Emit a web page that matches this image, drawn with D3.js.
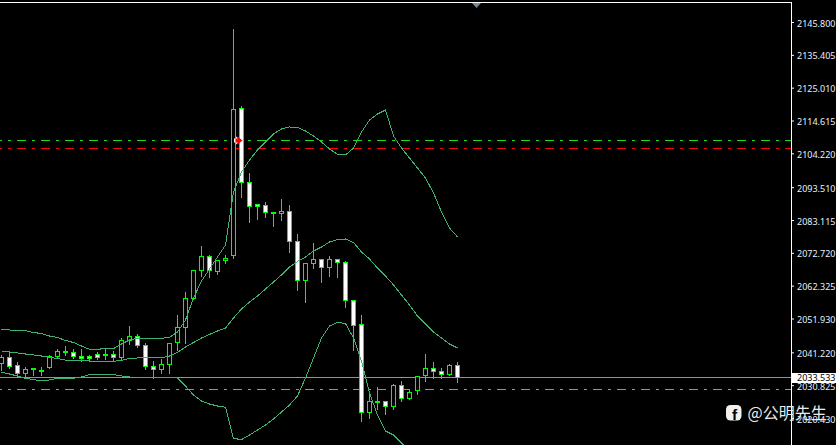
<!DOCTYPE html>
<html><head><meta charset="utf-8">
<style>html,body{margin:0;padding:0;background:#000;overflow:hidden}svg{display:block}</style>
<script src="https://cdnjs.cloudflare.com/ajax/libs/d3/7.8.5/d3.min.js"></script>
</head><body><svg id="c" width="836" height="445"></svg>
<script>
const open_=[2037.62,2039.65,2037.12,2034.46,2036.17,2035.53,2036.36,2039.84,2041.55,2041.23,2039.97,2039.97,2040.69,2040.69,2040.38,2039.52,2044.81,2046.3,2043.45,2036.8,2035.72,2037.43,2044.27,2049.15,2058.33,2067.19,2071.62,2066.88,2070.23,2071.81,2118.48,2095.05,2087.87,2087.77,2085.56,2085.11,2085.87,2076.37,2063.9,2069.28,2070.68,2068.02,2070.68,2069.73,2057.69,2050.1,2022.11,2025.5,2025.72,2024.01,2030.78,2026.54,2029.2,2033.73,2036.17,2035.21,2034.14,2037.12];
const close_=[2039.65,2036.67,2034.58,2035.85,2035.72,2035.31,2039.97,2041.55,2041.01,2039.84,2039.21,2039.21,2039.74,2040.16,2039.52,2045.03,2046.3,2043.23,2036.67,2035.72,2037.43,2044.08,2049.15,2058.33,2067.19,2071.62,2066.97,2070.36,2070.99,2118.16,2095.05,2087.33,2087.33,2085.43,2085.11,2085.87,2076.25,2064.03,2069.41,2070.68,2068.02,2070.68,2069.6,2057.57,2049.65,2022.24,2025.72,2025.66,2024.01,2030.78,2026.54,2028.57,2033.63,2036.17,2035.09,2034.14,2037.12,2033.32];
const high_=[2040.38,2041.33,2038.38,2036.89,2036.26,2036.58,2040.38,2042.28,2043.23,2042.59,2042.59,2040.47,2041.33,2042.28,2041.87,2045.98,2049.56,2047.03,2044.18,2038.48,2039.21,2044.18,2053.04,2060.42,2067.29,2075.2,2072.04,2070.68,2072.04,2143.9,2119.52,2098.0,2088.41,2089.13,2085.56,2090.08,2087.87,2078.69,2069.73,2076.06,2071.08,2071.72,2071.08,2070.36,2057.79,2053.04,2028.35,2030.56,2025.72,2031.42,2032.15,2029.84,2033.95,2040.92,2038.16,2036.26,2037.53,2038.16];
const low_=[2035.94,2036.26,2033.51,2033.82,2034.36,2034.27,2036.26,2039.52,2040.6,2039.43,2038.79,2038.57,2039.33,2039.11,2038.79,2039.02,2043.86,2043.0,2036.04,2033.32,2034.77,2034.77,2041.96,2044.27,2058.11,2065.39,2065.17,2066.25,2069.73,2071.18,2090.49,2082.58,2083.66,2084.17,2081.31,2083.12,2073.3,2060.96,2057.25,2068.02,2063.58,2065.39,2065.17,2055.67,2041.96,2019.58,2020.53,2023.38,2021.7,2023.38,2025.9,2026.54,2028.13,2032.24,2033.32,2033.32,2034.05,2031.92];
const bandUpper=[2048.45,2048.29,2048.13,2048.07,2047.5,2047.18,2046.39,2045.92,2044.97,2044.33,2043.23,2042.18,2042.18,2042.43,2042.43,2043.86,2045.13,2045.66,2045.66,2045.66,2045.66,2045.92,2047.66,2051.46,2058.42,2063.81,2067.6,2071.4,2075.2,2091.98,2098.31,2102.11,2105.28,2107.81,2110.35,2111.93,2112.56,2112.41,2111.3,2109.71,2107.81,2105.6,2103.86,2103.7,2105.91,2110.98,2114.78,2116.68,2117.94,2109.71,2105.91,2102.75,2099.58,2096.41,2091.67,2085.65,2080.59,2077.74];
const bandMiddle=[2041.42,2041.33,2041.01,2040.69,2040.38,2040.06,2039.59,2039.27,2038.79,2038.64,2038.57,2038.48,2038.38,2038.38,2038.38,2038.64,2039.27,2039.43,2039.43,2039.43,2039.43,2040.06,2041.17,2042.91,2044.33,2045.76,2046.87,2047.98,2048.93,2052.09,2054.94,2057.16,2059.06,2061.27,2063.49,2065.71,2068.24,2069.98,2071.4,2073.3,2074.57,2076.15,2076.94,2077.1,2075.99,2072.99,2070.77,2067.92,2065.39,2062.54,2059.37,2056.21,2052.72,2050.19,2047.66,2045.76,2043.86,2042.59];
const bandLower=[2034.9,2034.36,2033.73,2032.94,2032.62,2032.15,2032.46,2033.0,2033.0,2033.0,2033.41,2034.2,2034.27,2034.27,2034.2,2033.73,2033.41,2033.32,2033.32,2033.32,2033.32,2033.32,2033.1,2030.56,2027.71,2025.81,2024.86,2024.23,2023.82,2013.94,2013.62,2015.05,2016.63,2018.22,2020.12,2022.33,2024.55,2027.4,2033.1,2039.43,2045.76,2049.56,2050.67,2050.35,2045.76,2038.48,2028.35,2021.38,2016.32,2015.05,2012.5,2009.97];
const tickLabels=[2145.8,2135.405,2125.01,2114.615,2104.22,2093.51,2083.115,2072.72,2062.325,2051.93,2041.22,2030.825,2020.43];
const levelGreen=2108.32, levelRed=2105.78, levelLower=2029.52, lastPrice=2033.533, entryPrice=2108.3;
const watermark="@公明先生";

const svg=d3.select("#c");
const W=836,H=445,AX=791;
svg.append("rect").attr("width",W).attr("height",H).attr("fill","#000");
const x=d3.scaleLinear().domain([0,57]).range([1.5,457.5]);
const y=d3.scaleLinear().domain([2020.43,2145.8]).range([418,22]);
const row=v=>Math.floor(y(v))+0.5;
const lastRow=Math.round(y(lastPrice))+0.5;

const plot=svg.append("g");
[[levelGreen,"#1fdc1f"],[levelRed,"#ff0000"],[levelLower,"#3ccf4e"]].forEach(([v,c])=>{
  plot.append("line").attr("x1",0).attr("x2",AX).attr("y1",row(v)).attr("y2",row(v))
    .attr("stroke",c).attr("stroke-dasharray","9 6 3 6").attr("stroke-dashoffset",7)
    .attr("shape-rendering","crispEdges");
});
plot.append("line").attr("x1",0).attr("x2",AX).attr("y1",lastRow).attr("y2",lastRow)
  .attr("stroke","#8f959b").attr("shape-rendering","crispEdges");

const idx=d3.range(open_.length);
const cg=plot.append("g").attr("shape-rendering","crispEdges");
cg.selectAll(".w").data(idx).join("line").attr("class","w")
  .attr("x1",x).attr("x2",x).attr("y1",i=>row(high_[i])).attr("y2",i=>row(low_[i])+1)
  .attr("stroke","#00ff00");
cg.selectAll(".b").data(idx).join("rect").attr("class","b")
  .attr("x",i=>x(i)-2).attr("width",4)
  .attr("y",i=>row(Math.max(open_[i],close_[i])))
  .attr("height",i=>Math.max(1,row(Math.min(open_[i],close_[i]))-row(Math.max(open_[i],close_[i]))))
  .attr("fill",i=>close_[i]<open_[i]?"#fff":"#000")
  .attr("stroke","#00ff00");

const line=d3.line().x((d,i)=>x(i)).y(d=>y(d));
[bandUpper,bandMiddle,bandLower].forEach(a=>{
  plot.append("path").attr("d",line(a)).attr("fill","none")
    .attr("stroke","#3cb371").attr("stroke-width",1).attr("shape-rendering","crispEdges");
});

// entry arrow: white edge behind a solid red head
const ax=x(30)-3, ay=y(entryPrice);
const arrow=[[-3,-2],[-1,-2],[-1,-4],[4,0],[-1,4],[-1,2],[-3,2]];
plot.append("polygon").attr("points",arrow.map(p=>[ax+p[0]-1.5,ay+p[1]].join(",")).join(" ")).attr("fill","#fff");
plot.append("polygon").attr("points",arrow.map(p=>[ax+p[0],ay+p[1]].join(",")).join(" ")).attr("fill","#ff0000");

svg.append("line").attr("x1",0).attr("x2",AX+1).attr("y1",2.5).attr("y2",2.5).attr("stroke","#fff").attr("shape-rendering","crispEdges");
svg.append("line").attr("x1",AX+.5).attr("x2",AX+.5).attr("y1",2).attr("y2",H).attr("stroke","#fff").attr("shape-rendering","crispEdges");
svg.append("polygon").attr("points",[[472,3],[481,3],[476.5,8]].join(" ")).attr("fill","#778899");

const axis=d3.axisRight(y).tickValues(tickLabels).tickFormat(d3.format(".3f")).tickSize(3).tickSizeOuter(0).tickPadding(3);
const ag=svg.append("g").attr("transform",`translate(${AX},0)`).call(axis);
ag.select(".domain").remove();
ag.selectAll("line").attr("stroke","#fff");
ag.selectAll("text").attr("fill","#e6f0ff").attr("font-family","'Noto Sans',sans-serif").attr("font-size",9).attr("dy","0.45em");

svg.append("rect").attr("x",AX+1).attr("y",lastRow-4.5).attr("width",W-AX).attr("height",10).attr("fill","#fff");
svg.append("text").attr("x",AX+6).attr("y",lastRow).attr("dy","0.38em").text(d3.format(".3f")(lastPrice))
  .attr("fill","#000").attr("font-family","'Noto Sans',sans-serif").attr("font-size",9);

svg.append("rect").attr("x",726).attr("y",405).attr("width",15.5).attr("height",15.5).attr("rx",4.5).attr("fill","#f0f0f0");
svg.append("text").attr("x",734.5).attr("y",420).attr("text-anchor","middle").text("f")
  .attr("fill","#000").attr("font-family","'Liberation Sans',sans-serif").attr("font-weight","bold").attr("font-size",15.5);
svg.append("text").attr("x",747.5).attr("y",419).text(watermark)
  .attr("fill","#ececec").attr("font-family","'Noto Sans CJK SC',sans-serif").attr("font-size",16);
</script></body></html>
